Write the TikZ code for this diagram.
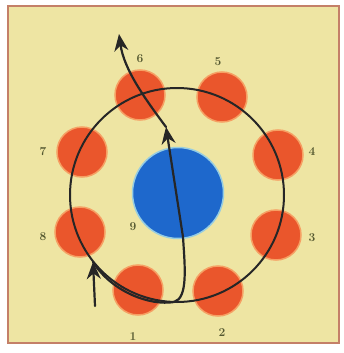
\documentclass[tikz,border=0pt]{standalone}
\usepackage{xcolor}
\usepackage{tikz}
\usetikzlibrary{arrows.meta,positioning,calc}
\definecolor{paperclr}{RGB}{238,229,163}
\definecolor{frameclr}{RGB}{196,128,104}
\definecolor{ballclr}{RGB}{234,86,44}
\definecolor{haloclr}{RGB}{246,160,100}
\definecolor{targetclr}{RGB}{30,104,204}
\definecolor{rimclr}{RGB}{150,205,225}
\definecolor{numclr}{RGB}{84,88,48}

\begin{document}
\begin{tikzpicture}[x=1pt,y=-1pt,
  ball/.style={circle, fill=ballclr, draw=haloclr, line width=1.5pt, minimum size=50pt, inner sep=0pt},
  target/.style={circle, fill=targetclr, draw=rimclr, line width=1.5pt, minimum size=91pt, inner sep=0pt},
  numlbl/.style={font=\large\bfseries, text=numclr, inner sep=1pt},
  track/.style={black!85, line width=2.2pt, line cap=round},
  tip/.style={-{Stealth[length=17pt,width=14pt]}}]

\useasboundingbox (0,0) rectangle (344,353);

% Paper and frame
\fill[white] (0,0) rectangle (344,353);
\fill[paperclr] (8,6) rectangle (339,343);
\draw[frameclr, line width=1.6pt] (8,6) rectangle (339,343);

% Red balls with their numbers
\foreach \n/\cx/\cy/\lx/\ly in {1/138/290/133/337, 2/218/291/222/333, 3/276/235/312/238,
  4/278/155/312/152, 5/222/97/218/62, 6/140/95/140/59, 7/82/152/43/152, 8/80/232/43/237}{
  \node[ball] (b\n) at (\cx,\cy) {};
  \node[numlbl] (l\n) at (\lx,\ly) {\n};
}

% Blue target ball
\node[target] (blue) at (178,193) {};
\node[numlbl] (l9) at (133,227) {9};

% Big ring
\node[circle, draw=black!85, line width=2pt, minimum size=214pt, inner sep=0pt] (ring) at (177,195) {};

% Path of the cue
\coordinate (start) at (95,306);
\coordinate (kick) at (93,262);
\coordinate (mid) at (166,127);
\coordinate (out) at (119,34);
\draw[track, tip] (start) -- (kick);
\draw[track, tip] (kick) .. controls (112,292) and (150,306) .. (174,302)
  .. controls (188,298) and (185,268) .. (183,237) -- (mid);
\draw[track, tip] (mid) .. controls (146,100) and (124,70) .. (out);

\end{tikzpicture}
\end{document}
